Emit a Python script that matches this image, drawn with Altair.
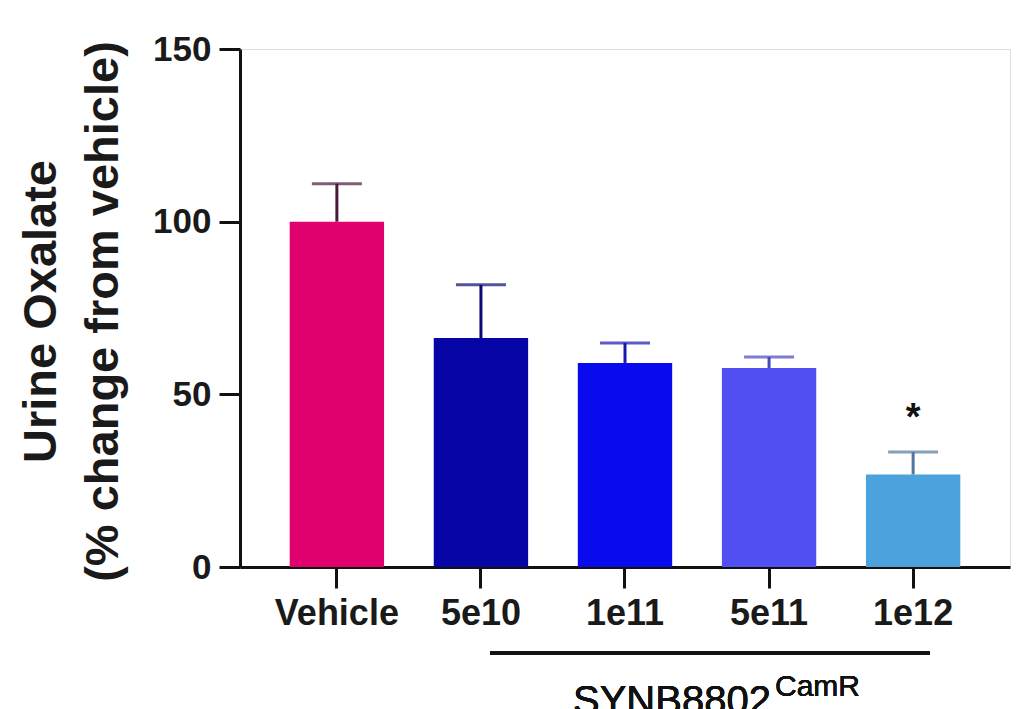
import altair as alt
import pandas as pd

groups = ["Vehicle", "5e10", "1e11", "5e11", "1e12"]
means = [100.0, 66.3, 59.1, 57.6, 26.8]
sems = [11.0, 15.4, 5.8, 3.2, 6.5]
bar_colors = ["#E0006E", "#0606A6", "#0A0AEE", "#5050F2", "#4BA2DC"]
err_colors = ["#4A1838", "#0A0A70", "#1616B0", "#4646C0", "#50789E"]
stars = ["", "", "", "", "*"]

df = pd.DataFrame({
    "group": groups,
    "mean": means,
    "upper": [m + s for m, s in zip(means, sems)],
    "star": stars,
    "ecolor": err_colors,
})

FONT = "Liberation Sans"

x_enc = alt.X(
    "group:N",
    sort=groups,
    scale=alt.Scale(paddingInner=0.345, paddingOuter=0.345),
    axis=alt.Axis(
        title=None, labelAngle=0, labelFontSize=36, labelFont=FONT,
        labelFontWeight="bold", labelColor="#1a1a1a", labelPadding=8,
        domainColor="#111111", domainWidth=3, tickColor="#111111",
        tickWidth=3, tickSize=21,
    ),
)

y_scale = alt.Scale(domain=[0, 150], nice=False)

bars = alt.Chart(df).mark_bar().encode(
    x=x_enc,
    y=alt.Y(
        "mean:Q",
        scale=y_scale,
        axis=alt.Axis(
            values=[0, 50, 100, 150], grid=False,
            title=["Urine Oxalate", "(% change from vehicle)"],
            titleFont=FONT, titleFontSize=47, titleFontWeight="bold",
            titleColor="#1a1a1a", titleLineHeight=62,
            titleX=-199, titleY=262, titleAngle=270,
            titleAlign="center", titleBaseline="middle",
            labelFontSize=35, labelFont=FONT, labelFontWeight="bold",
            labelColor="#1a1a1a", labelPadding=8,
            domainColor="#111111", domainWidth=3, tickColor="#111111",
            tickWidth=3, tickSize=21,
        ),
    ),
    color=alt.Color("group:N", scale=alt.Scale(domain=groups, range=bar_colors), legend=None),
)

err = alt.Chart(df).mark_rule(strokeWidth=3).encode(
    x=alt.X("group:N", sort=groups),
    y=alt.Y("mean:Q", scale=y_scale),
    y2="upper:Q",
    color=alt.Color("ecolor:N", scale=None),
)

caps = alt.Chart(df).mark_tick(size=50, thickness=3).encode(
    x=alt.X("group:N", sort=groups),
    y=alt.Y("upper:Q", scale=y_scale),
    color=alt.Color("ecolor:N", scale=None),
)

star_text = alt.Chart(df).mark_text(
    font=FONT, fontSize=38, fontWeight="bold", color="#111111", baseline="middle", dy=-33
).encode(
    x=alt.X("group:N", sort=groups),
    y=alt.Y("upper:Q", scale=y_scale),
    text="star:N",
)

bracket = alt.Chart(df).mark_rule(strokeWidth=3, color="#111111").encode(
    x=alt.value(250), x2=alt.value(690), y=alt.value(604)
)

label_main = alt.Chart(df).mark_text(
    text="SYNB8802", font=FONT, fontSize=40, align="left", baseline="alphabetic", color="#111111"
).encode(x=alt.value(333), y=alt.value(665))

label_sup = alt.Chart(df).mark_text(
    text="CamR", font=FONT, fontSize=30, align="left", baseline="alphabetic", color="#111111"
).encode(x=alt.value(535), y=alt.value(647))

chart = alt.layer(bars, err, caps, star_text, bracket, label_main, label_sup).properties(
    width=770, height=518,
    autosize=alt.AutoSizeParams(type="none"),
    padding={"left": 232, "top": 41, "right": 5, "bottom": 150},
).configure_view(stroke=None).configure(background="white")

chart.save("out.html", embed_options={"renderer": "svg", "actions": False})
